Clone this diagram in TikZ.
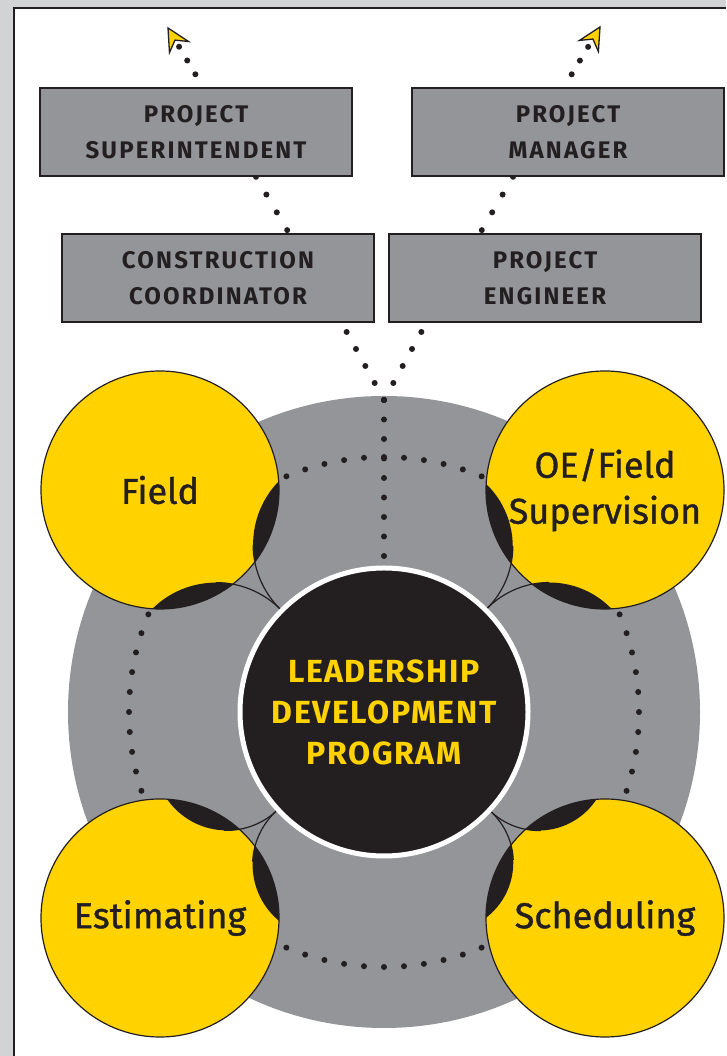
\documentclass[tikz,border=0pt]{standalone}
\usepackage{fontspec}
\setmainfont{Fira Sans}
\newfontfamily\boxfont{Fira Sans}[LetterSpace=9]
\newfontfamily\ldpfont{Fira Sans}[LetterSpace=5]
\newfontfamily\labfont{Fira Sans}[FakeBold=1]
\definecolor{ygold}{HTML}{FFD200}
\definecolor{mgray}{HTML}{939598}
\definecolor{lgray}{HTML}{D1D3D4}
\definecolor{ink}{HTML}{231F20}
\pgfdeclarelayer{back}
\pgfdeclarelayer{mid}
\pgfsetlayers{back,mid,main}
\newcommand\lensarcs[4]{%
  \begin{scope}[shift={(#1)}, rotate=#2]
    \begin{scope}
      \clip (0,0) circle (119);
      \fill[ink] (#3,#4) circle (#4);
      \fill[ink] (#3,-#4) circle (#4);
    \end{scope}
    \draw[auxline] (#3,-#4) ++(85:#4) arc[start angle=85, end angle=135, radius=#4];
    \draw[auxline] (#3,#4) ++(275:#4) arc[start angle=275, end angle=225, radius=#4];
  \end{scope}}
\begin{document}
\begin{tikzpicture}[x=1pt,y=1pt,
  dotline/.style={draw=ink, line width=6pt, line cap=round, dash pattern=on 0pt off 19.5pt},
  auxline/.style={draw=ink, line width=1.2pt},
  rolebox/.style={draw=ink, line width=1.6pt, fill=mgray, minimum width=312pt, minimum height=88pt,
    inner sep=0pt, align=center, text=ink, font=\boxfont\bfseries\fontsize{24pt}{36pt}\selectfont},
  ycirc/.style={circle, fill=ygold, draw=ink, line width=1.2pt, minimum size=238pt, inner sep=0pt,
    align=center, text=ink, font=\labfont\fontsize{36pt}{46pt}\selectfont},
  tipshape/.style={fill=ygold, draw=ink, line width=1.3pt, line join=miter}]
\useasboundingbox (0,0) rectangle (726,1056);
\begin{pgfonlayer}{back}
  \fill[lgray] (0,0) rectangle (726,1056);
  \fill[white] (14,0) rectangle (726,1048);
  \draw[ink, line width=1.4pt] (14,0) -- (14,1048) -- (726,1048);
  \fill[mgray] (384,344) circle (316);
  \draw[dotline, dash pattern=on 0pt off 20.03pt] (384,344) circle (255);
\end{pgfonlayer}

% role boxes
\node[rolebox] (PS) at (196,924) {PROJECT\\SUPERINTENDENT};
\node[rolebox] (PM) at (568,924) {PROJECT\\MANAGER};
\node[rolebox] (CC) at (218,778) {CONSTRUCTION\\COORDINATOR};
\node[rolebox] (PE) at (545,778) {PROJECT\\ENGINEER};

% yellow circles
\node[ycirc] (F) at (160,566) {Field};
\node[ycirc] (OE) at (605,566) {OE/Field\\Supervision};
\node[ycirc] (E) at (160,138) {Estimating};
\node[ycirc] (S) at (605,138) {Scheduling};

\lensarcs{F}{-44.74}{168.9}{90.7}
\lensarcs{OE}{-134.87}{166.75}{87.2}
\lensarcs{E}{42.6}{157.8}{72.8}
\lensarcs{S}{137.0}{155.6}{69.4}

% centre
\node[circle, fill=ink, draw=white, line width=5pt, minimum size=288pt, inner sep=0pt, align=center,
  text=ygold, font=\ldpfont\bfseries\fontsize{32pt}{41pt}\selectfont] (LDP) at (384,344)
  {LEADERSHIP\\DEVELOPMENT\\PROGRAM};

\coordinate (J) at (384,656);
\coordinate (tipL) at (168,1028);
\coordinate (tipR) at (600,1029);

\begin{pgfonlayer}{mid}
  \draw[dotline] (J) -- (LDP.north);
  \draw[dotline, dash pattern=on 0pt off 19.4pt] (J) -- ([xshift=123.6pt]CC.south);
  \draw[dotline, dash pattern=on 0pt off 19.4pt] (J) -- ([xshift=-118.6pt]PE.south);
  \draw[dotline, dash pattern=on 0pt off 20.6pt] ([xshift=60pt]PS.south) -- ([xshift=71pt]CC.north);
  \draw[dotline, dash pattern=on 0pt off 20.6pt] ([xshift=-55pt]PM.south) -- ([xshift=-65pt]PE.north);
  \draw[dotline, dash pattern=on 0pt off 16pt, dash phase=1pt] ([xshift=7pt]PS.north) -- (tipL);
  \draw[dotline, dash pattern=on 0pt off 16pt, dash phase=1pt] ([xshift=-4pt]PM.north) -- (tipR);
\end{pgfonlayer}

% arrow heads
\begin{scope}[shift={(tipL)}, rotate=120]
  \filldraw[tipshape] (0,0) -- (-22,11) -- (-14,0) -- (-22,-11) -- cycle;
\end{scope}
\begin{scope}[shift={(tipR)}, rotate=59.7]
  \filldraw[tipshape] (0,0) -- (-22,11) -- (-14,0) -- (-22,-11) -- cycle;
\end{scope}
\end{tikzpicture}
\end{document}
